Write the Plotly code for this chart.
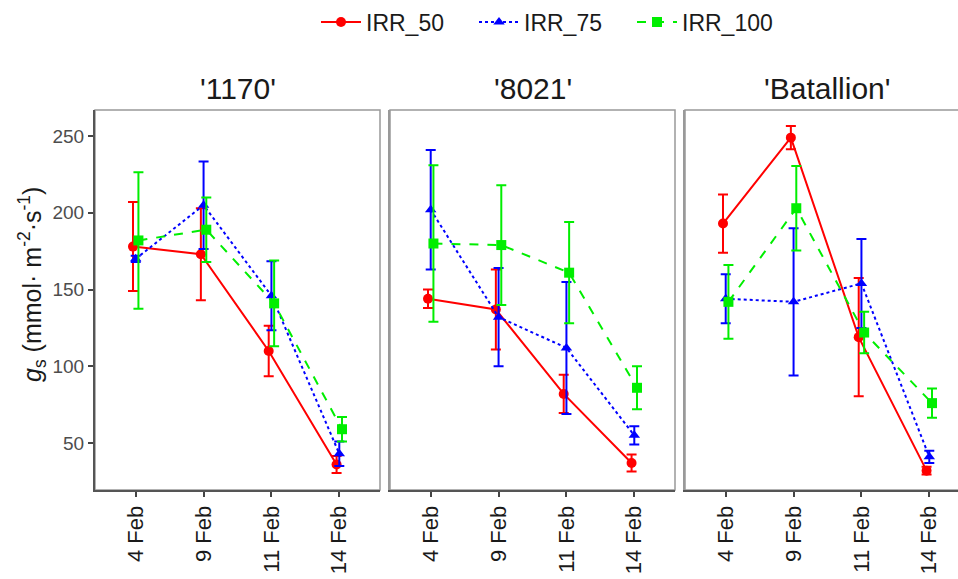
import plotly.graph_objects as go

dates = ["4 Feb", "9 Feb", "11 Feb", "14 Feb"]
cultivars = ["'1170'", "'8021'", "'Batallion'"]
treatments = ["IRR_50", "IRR_75", "IRR_100"]

# mean gs per cultivar (rows) and date (cols)
irr50_mean = [[178, 173, 110, 36], [144, 137, 82, 37], [193, 249, 119, 32]]
irr50_err = [[29, 30, 16.5, 5.5], [6, 26, 12.5, 5.5], [19, 7.5, 38.5, 2.5]]
irr75_mean = [[170, 205, 146, 43], [202, 132, 112, 55], [144, 142, 154, 41]]
irr75_err = [[2, 28.5, 22.5, 8], [39, 32, 43, 6], [16, 48, 29, 4]]
irr100_mean = [[182, 189, 141, 59], [180, 179, 161, 86], [142, 203, 122, 76]]
irr100_err = [[44.5, 21, 28, 8], [51, 39, 33, 14], [24, 27.5, 13.5, 9.5]]

y_ticks = [50, 100, 150, 200, 250]

means = [irr50_mean, irr75_mean, irr100_mean]
errs = [irr50_err, irr75_err, irr100_err]
colors = ["#FF0000", "#0000FF", "#00EE00"]
symbols = ["circle", "triangle-up", "square"]
dashes = ["solid", "dot", "dash"]
dodge = [-0.04, 0.0, 0.04]

FONT = "Liberation Sans, Arial, sans-serif"

# layout geometry (pixels -> paper)
W, H = 958, 579
ml, mr, mt, mb = 95, 0, 110, 89
pw = W - ml - mr
panel_px = [(95, 380), (390, 675), (685, 970)]
domains = []
for a, b in panel_px:
    domains.append([max(0, (a - ml) / pw), min(1, (b - ml) / pw)])
xr = [-0.6, 3.6]
unit = (panel_px[0][1] - panel_px[0][0]) / (xr[1] - xr[0])
xr3 = [-0.6, -0.6 + (W - panel_px[2][0]) / unit]

fig = go.Figure()
for p in range(3):
    xa = "x" if p == 0 else f"x{p+1}"
    ya = "y" if p == 0 else f"y{p+1}"
    for t in range(3):
        xs = [i + dodge[t] for i in range(len(dates))]
        fig.add_trace(go.Scatter(
            x=xs, y=means[t][p],
            error_y=dict(type="data", array=errs[t][p], visible=True,
                         color=colors[t], thickness=2, width=5),
            mode="lines+markers",
            line=dict(color=colors[t], width=2, dash=dashes[t]),
            marker=dict(color=colors[t], symbol=symbols[t], size=10),
            name=treatments[t], legendgroup=treatments[t],
            showlegend=(p == 0),
            xaxis=xa, yaxis=ya,
        ))

layout = dict(
    width=W, height=H,
    margin=dict(l=ml, r=mr, t=mt, b=mb, pad=0),
    paper_bgcolor="white", plot_bgcolor="white",
    font=dict(family=FONT, color="#1a1a1a"),
    showlegend=True,
    legend=dict(orientation="h", x=(316 - ml) / pw, xanchor="left",
                y=1 + (mt - 22) / (H - mt - mb), yanchor="middle",
                font=dict(size=23, color="#1a1a1a"),
                entrywidth=103, entrywidthmode="pixels",
                itemwidth=40, bgcolor="rgba(0,0,0,0)"),
)

for p in range(3):
    xk = "xaxis" if p == 0 else f"xaxis{p+1}"
    yk = "yaxis" if p == 0 else f"yaxis{p+1}"
    ya = "y" if p == 0 else f"y{p+1}"
    xa = "x" if p == 0 else f"x{p+1}"
    layout[xk] = dict(
        domain=domains[p], anchor=ya,
        range=xr3 if p == 2 else xr,
        tickmode="array", tickvals=list(range(len(dates))), ticktext=dates,
        tickangle=-90, ticks="outside", ticklen=5, tickwidth=1.5,
        tickcolor="#444444",
        tickfont=dict(size=22, color="#1a1a1a", family=FONT),
        showline=True, linecolor="#555555", linewidth=2,
        showgrid=False, zeroline=False, fixedrange=True,
    )
    layout[yk] = dict(
        domain=[0, 1], anchor=xa,
        range=[19.4, 267],
        tickmode="array", tickvals=y_ticks,
        ticks="outside" if p == 0 else "", ticklen=5, tickwidth=1.5,
        tickcolor="#444444",
        showticklabels=(p == 0),
        tickfont=dict(size=19, color="#4d4d4d", family=FONT),
        showline=True, linecolor="#555555" if p == 0 else "#999999",
        linewidth=2 if p == 0 else 1.5,
        showgrid=False, zeroline=False, fixedrange=True,
    )

fig.update_layout(**layout)

shapes = []
annotations = []
for p in range(3):
    xa = "x" if p == 0 else f"x{p+1}"
    ya = "y" if p == 0 else f"y{p+1}"
    shapes.append(dict(type="rect", xref=f"{xa} domain", yref=f"{ya} domain",
                       x0=0, x1=1.05 if p == 2 else 1, y0=0, y1=1,
                       line=dict(color="#999999", width=1.5),
                       fillcolor="rgba(0,0,0,0)", layer="below"))
    annotations.append(dict(text=cultivars[p], xref=f"{xa} domain", yref="paper",
                            x=0.5 if p < 2 else 142 / (W - panel_px[2][0]),
                            y=1 + (mt - 89) / (H - mt - mb),
                            xanchor="center", yanchor="middle", showarrow=False,
                            font=dict(size=30, color="#1a1a1a", family=FONT)))

annotations.append(dict(
    text="<i>g</i><sub>s</sub> (mmol\u00b7 m<sup>-2</sup>\u00b7s<sup>-1</sup>)",
    xref="paper", yref="paper",
    x=(32 - ml) / pw, y=(H - mb - 285) / (H - mt - mb),
    xanchor="center", yanchor="middle", textangle=-90, showarrow=False,
    font=dict(size=25, color="#1a1a1a", family=FONT)))

fig.update_layout(shapes=shapes, annotations=annotations)
fig.write_html("out.html")
